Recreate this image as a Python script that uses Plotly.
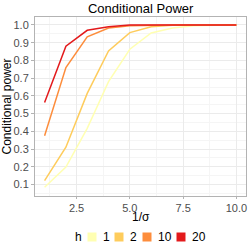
import plotly.graph_objects as go

x_vals = [1, 2, 3, 4, 5, 6, 7, 8, 9, 10]
h_labels = ["1", "2", "10", "20"]
power_h1 = [0.084, 0.198, 0.417, 0.68, 0.863, 0.955, 0.983, 0.995, 0.999, 1.0]
power_h2 = [0.122, 0.31, 0.614, 0.854, 0.957, 0.99, 0.998, 1.0, 1.0, 1.0]
power_h10 = [0.375, 0.76, 0.933, 0.983, 0.996, 1.0, 1.0, 1.0, 1.0, 1.0]
power_h20 = [0.562, 0.88, 0.97, 0.99, 1.0, 1.0, 1.0, 1.0, 1.0, 1.0]
colors = ["#FFFFB2", "#FECC5C", "#FD8D3C", "#E31A1C"]

series = [power_h1, power_h2, power_h10, power_h20]

fig = go.Figure()
for lab, ys, c in zip(h_labels, series, colors):
    fig.add_trace(go.Scatter(x=x_vals, y=ys, mode="lines", line=dict(color=c, width=1.5),
                             name=lab, showlegend=False, hoverinfo="skip"))

# manual legend (ggplot-style square keys), positioned in paper coordinates
L, W, B, H = 35, 211, 53, 179
def px_to_paper_x(px):
    return (px - L) / W
def px_to_paper_y(py):
    return (196 - py) / H
leg_y = px_to_paper_y(237)
fig.add_annotation(x=px_to_paper_x(78), y=leg_y, xref="paper", yref="paper", text="h",
                   showarrow=False, xanchor="center", yanchor="middle",
                   font=dict(size=12, color="black"))
key_px = [92, 119, 147, 181]
lab_px = [106, 133, 165, 199]
for lab, c, kp, lp in zip(h_labels, colors, key_px, lab_px):
    fig.add_shape(type="rect", xref="paper", yref="paper",
                  x0=px_to_paper_x(kp - 4.5), x1=px_to_paper_x(kp + 4.5),
                  y0=leg_y - 4.5 / H, y1=leg_y + 4.5 / H,
                  fillcolor=c, line=dict(width=0))
    fig.add_annotation(x=px_to_paper_x(lp), y=leg_y, xref="paper", yref="paper", text=lab,
                       showarrow=False, xanchor="center", yanchor="middle",
                       font=dict(size=12, color="black"))

# x-axis title
fig.add_annotation(x=0.5, y=px_to_paper_y(217), xref="paper", yref="paper", text="1/σ",
                   showarrow=False, xanchor="center", yanchor="middle",
                   font=dict(size=12, color="black"))

font = "Liberation Sans, Arial, sans-serif"
fig.update_layout(
    width=249, height=249,
    margin=dict(l=L, r=3, t=17, b=B, autoexpand=False),
    paper_bgcolor="white", plot_bgcolor="white",
    font=dict(family=font, size=11, color="#4d4d4d"),
    showlegend=False,
    title=dict(text="Conditional Power", x=0.565, xanchor="center", y=0.965, yanchor="middle",
               font=dict(size=13, color="black")),
    xaxis=dict(range=[0.55, 10.45], tickvals=[2.5, 5.0, 7.5, 10.0], ticktext=["2.5", "5.0", "7.5", "10.0"],
               showgrid=True, gridcolor="#ebebeb", gridwidth=1, automargin=False,
               minor=dict(tickvals=[1.25, 3.75, 6.25, 8.75], showgrid=True, gridcolor="#f5f5f5"),
               ticks="outside", ticklen=2, tickcolor="#b3b3b3",
               showline=True, linecolor="#b3b3b3", mirror=True, zeroline=False,
               tickfont=dict(size=11, color="#4d4d4d")),
    yaxis=dict(range=[0.035, 1.045], tickvals=[0.1, 0.2, 0.3, 0.4, 0.5, 0.6, 0.7, 0.8, 0.9, 1.0],
               tickformat=".1f", automargin=False,
               showgrid=True, gridcolor="#ebebeb", gridwidth=1,
               minor=dict(tickvals=[0.05, 0.15, 0.25, 0.35, 0.45, 0.55, 0.65, 0.75, 0.85, 0.95], showgrid=True, gridcolor="#f5f5f5"),
               ticks="outside", ticklen=3, tickcolor="#b3b3b3",
               showline=True, linecolor="#b3b3b3", mirror=True, zeroline=False,
               title=dict(text="Conditional power", standoff=4, font=dict(size=12, color="black")),
               tickfont=dict(size=11, color="#4d4d4d")),
)
fig.write_html("out.html", config={"displayModeBar": False},
               post_script="document.body.style.margin='0';document.body.style.overflow='hidden';")
